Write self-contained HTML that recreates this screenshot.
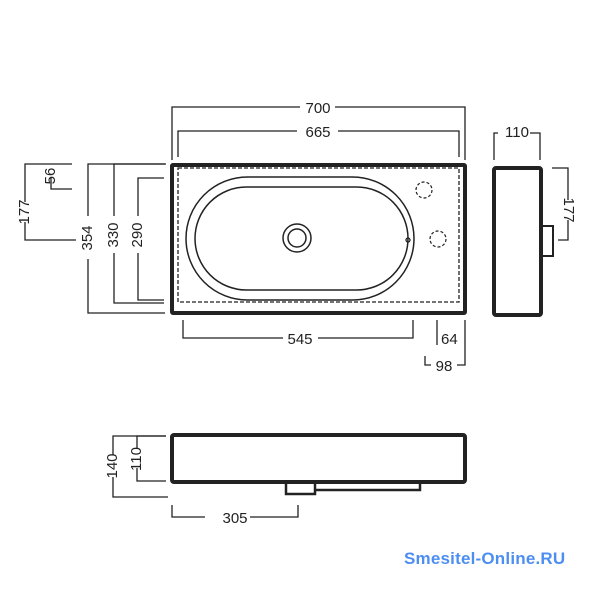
<!DOCTYPE html>
<html><head><meta charset="utf-8"><style>
body{margin:0;background:#fff}
svg text{font-family:"Liberation Sans",sans-serif;font-size:15px;fill:#222}
</style></head><body>
<svg width="600" height="600" viewBox="0 0 600 600" xmlns="http://www.w3.org/2000/svg">
<g fill="none" stroke="#222">
<rect x="172" y="165" width="293" height="148" stroke-width="4" rx="1"/>
<rect x="178" y="168" width="281" height="134" stroke-width="1.3" stroke-dasharray="4,2"/>
<rect x="186" y="177" width="228" height="123" rx="61.5" stroke-width="1.5"/>
<rect x="195" y="187" width="213" height="103" rx="51.5" stroke-width="1.5"/>
<circle cx="297" cy="238" r="14" stroke-width="1.5"/>
<circle cx="297" cy="238" r="9" stroke-width="1.5"/>
<circle cx="424" cy="190" r="8" stroke-width="1.2" stroke-dasharray="3,2"/>
<circle cx="438" cy="239" r="8" stroke-width="1.2" stroke-dasharray="3,2"/>
<circle cx="408" cy="240" r="2" stroke-width="1.3"/>
<g stroke-width="1.3">
<path d="M172 160V107H300M335 107H465V160"/>
<path d="M178 157V131H297M338 131H459V157"/>
<path d="M72 164H25V202M25 222V240H76"/>
<path d="M72 189H51V178"/>
<path d="M165 164H88V216M88 259V313H165"/>
<path d="M166 164H114V216M114 253V303H164"/>
<path d="M164 178H138V216M138 253V300H164"/>
<path d="M183 320V338H283M318 338H413V320"/>
<path d="M437 320V345"/>
<path d="M425 356V365H431M457 365H465V320"/>
<path d="M494 160V133H498M530 133H540V160"/>
<path d="M552 168H568V200M568 220V240H558"/>
<path d="M166 436H113V455M113 477V497H168"/>
<path d="M166 436H137V449M137 468V481H166"/>
<path d="M172 505V517H205M250 517H298V505"/>
</g>
<rect x="494" y="168" width="47" height="147" stroke-width="4" rx="2"/>
<rect x="541" y="226" width="12" height="30" stroke-width="2"/>
<rect x="172" y="435" width="293" height="47" stroke-width="4" rx="2"/>
<path d="M286 482V494H315V482M315 482V490H420V482" stroke-width="2.5"/>
</g>
<text x="318" y="113" text-anchor="middle">700</text>
<text x="318" y="137" text-anchor="middle">665</text>
<text x="517" y="137" text-anchor="middle">110</text>
<text x="300" y="344" text-anchor="middle">545</text>
<text x="441" y="344">64</text>
<text x="444" y="371" text-anchor="middle">98</text>
<text x="235" y="523" text-anchor="middle">305</text>
<text transform="translate(30,212) rotate(-90)" text-anchor="middle" dy="-1">177</text>
<text transform="translate(56,176) rotate(-90)" text-anchor="middle" dy="-1">56</text>
<text transform="translate(93,238) rotate(-90)" text-anchor="middle" dy="-1">354</text>
<text transform="translate(119,235) rotate(-90)" text-anchor="middle" dy="-1">330</text>
<text transform="translate(143,235) rotate(-90)" text-anchor="middle" dy="-1">290</text>
<text transform="translate(563,210) rotate(90)" text-anchor="middle" dy="-1">177</text>
<text transform="translate(118,466) rotate(-90)" text-anchor="middle" dy="-1">140</text>
<text transform="translate(142,459) rotate(-90)" text-anchor="middle" dy="-1">110</text>
<text x="404" y="564" style="font-size:17px;font-weight:bold;fill:#4d8ef2;letter-spacing:0.2px">Smesitel-Online.RU</text>
</svg>
</body></html>
